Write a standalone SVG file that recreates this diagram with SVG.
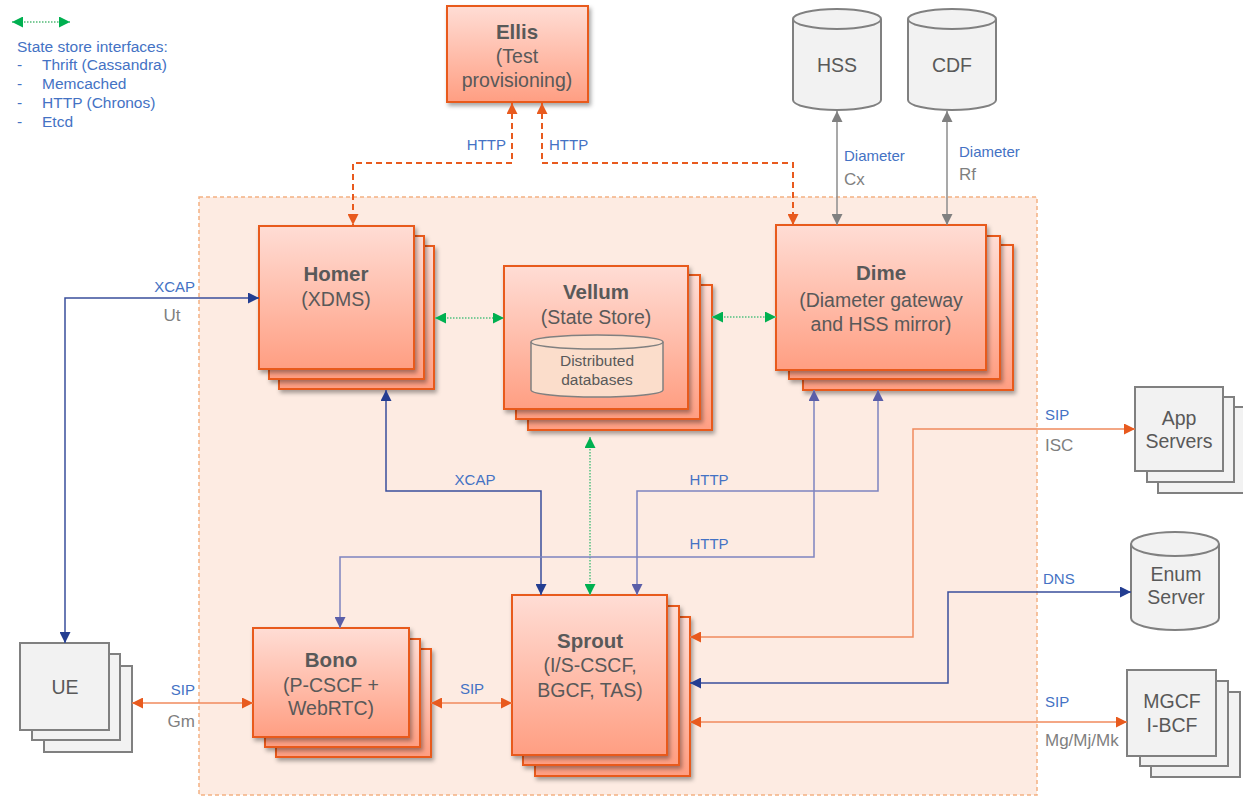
<svg xmlns="http://www.w3.org/2000/svg" width="1243" height="796" viewBox="0 0 1243 796">
<style>
text{font-family:"Liberation Sans",Arial,sans-serif}
.nd{fill:url(#og);stroke:#E85A1E;stroke-width:2;filter:url(#sh)}
.gn{fill:#F2F2F2;stroke:#808080;stroke-width:2}
.t{font-size:20.5px;font-weight:bold;fill:#595959;text-anchor:middle}
.s{font-size:19.5px;fill:#595959;text-anchor:middle}
.g{font-size:19.5px;fill:#595959;text-anchor:middle}
.lb{font-size:15px;fill:#4472C4}
.lg{font-size:17px;fill:#7F7F7F}
.leg{font-size:15.5px;fill:#4472C4}
.sip{fill:none;stroke:#F08A5D;stroke-width:1.5;marker-start:url(#ao);marker-end:url(#ao)}
.xb{fill:none;stroke:#3A4F9C;stroke-width:1.5;marker-start:url(#ab);marker-end:url(#ab)}
.hb{fill:none;stroke:#7E84C0;stroke-width:1.5;marker-start:url(#ap);marker-end:url(#ap)}
.gr{fill:none;stroke:#7CCB98;stroke-width:2;stroke-dasharray:1.5,1.5;marker-start:url(#ag);marker-end:url(#ag)}
.el{fill:none;stroke:#E85A1E;stroke-width:2;stroke-dasharray:6,4;marker-start:url(#ao);marker-end:url(#ao)}
.dg{fill:none;stroke:#8C8C8C;stroke-width:1.5;marker-start:url(#ay);marker-end:url(#ay)}
</style>
<defs>
<linearGradient id="og" x1="0" y1="0" x2="0" y2="1">
<stop offset="0" stop-color="#FFDDD5"/>
<stop offset="1" stop-color="#FF9E82"/>
</linearGradient>
<filter id="sh" x="-10%" y="-10%" width="130%" height="130%">
<feDropShadow dx="2" dy="3" stdDeviation="2" flood-color="#000" flood-opacity="0.35"/>
</filter>
<marker id="ao" viewBox="0 0 10 10" refX="10" refY="5" markerWidth="11" markerHeight="11" markerUnits="userSpaceOnUse" orient="auto-start-reverse"><path d="M0,0 L10,5 L0,10 z" fill="#E85A1E"/></marker>
<marker id="ab" viewBox="0 0 10 10" refX="10" refY="5" markerWidth="11" markerHeight="11" markerUnits="userSpaceOnUse" orient="auto-start-reverse"><path d="M0,0 L10,5 L0,10 z" fill="#233D91"/></marker>
<marker id="ap" viewBox="0 0 10 10" refX="10" refY="5" markerWidth="11" markerHeight="11" markerUnits="userSpaceOnUse" orient="auto-start-reverse"><path d="M0,0 L10,5 L0,10 z" fill="#5A5EA8"/></marker>
<marker id="ag" viewBox="0 0 10 10" refX="10" refY="5" markerWidth="11" markerHeight="11" markerUnits="userSpaceOnUse" orient="auto-start-reverse"><path d="M0,0 L10,5 L0,10 z" fill="#00B050"/></marker>
<marker id="ay" viewBox="0 0 10 10" refX="10" refY="5" markerWidth="11" markerHeight="11" markerUnits="userSpaceOnUse" orient="auto-start-reverse"><path d="M0,0 L10,5 L0,10 z" fill="#808080"/></marker>
</defs>
<rect width="1243" height="796" fill="#FFFFFF"/>

<g id="legend">
<path class="gr" d="M12,22 H70"/>
<text class="leg" x="17" y="52">State store interfaces:</text>
<text class="leg" x="17" y="70">-</text><text class="leg" x="42" y="70">Thrift (Cassandra)</text>
<text class="leg" x="17" y="89">-</text><text class="leg" x="42" y="89">Memcached</text>
<text class="leg" x="17" y="108">-</text><text class="leg" x="42" y="108">HTTP (Chronos)</text>
<text class="leg" x="17" y="127">-</text><text class="leg" x="42" y="127">Etcd</text>
</g>

<g id="container">
<rect x="199" y="197" width="838" height="598" fill="#FDEBE2" stroke="#F4B183" stroke-width="1.5" stroke-dasharray="4,3"/>
</g>

<g id="ellis">
<rect class="nd" x="447" y="6" width="141" height="96"/>
<text class="t" x="517" y="39">Ellis</text>
<text class="s" x="517" y="63">(Test</text>
<text class="s" x="517" y="87">provisioning)</text>
</g>

<g id="hss">
<path class="gn" d="M793,19 A44,10 0 0 1 881,19 L881,100 A44,10 0 0 1 793,100 Z"/>
<path d="M793,19 A44,10 0 0 0 881,19" fill="none" stroke="#808080" stroke-width="2"/>
<text class="g" x="837" y="72">HSS</text>
</g>
<g id="cdf">
<path class="gn" d="M908,19 A44,10 0 0 1 996,19 L996,100 A44,10 0 0 1 908,100 Z"/>
<path d="M908,19 A44,10 0 0 0 996,19" fill="none" stroke="#808080" stroke-width="2"/>
<text class="g" x="952" y="72">CDF</text>
</g>

<g id="homer">
<rect class="nd" x="279" y="246" width="155" height="143"/>
<rect class="nd" x="269" y="236" width="155" height="143"/>
<rect class="nd" x="259" y="226" width="155" height="143"/>
<text class="t" x="336" y="281">Homer</text>
<text class="s" x="336" y="306">(XDMS)</text>
</g>

<g id="vellum">
<rect class="nd" x="528" y="285" width="184" height="145"/>
<rect class="nd" x="516" y="275" width="184" height="144"/>
<rect class="nd" x="504" y="266" width="184" height="143"/>
<text class="t" x="596" y="299">Vellum</text>
<text class="s" x="596" y="324">(State Store)</text>
<path d="M531,342 A66,7 0 0 1 663,342 L663,390 A66,7 0 0 1 531,390 Z" fill="#FBDDCB" stroke="#808080" stroke-width="1.5"/>
<path d="M531,342 A66,7 0 0 0 663,342" fill="none" stroke="#808080" stroke-width="1.5"/>
<text x="597" y="366" font-size="15.5" fill="#595959" text-anchor="middle">Distributed</text>
<text x="597" y="385" font-size="15.5" fill="#595959" text-anchor="middle">databases</text>
</g>

<g id="dime">
<rect class="nd" x="803" y="245" width="210" height="145"/>
<rect class="nd" x="789" y="236" width="211" height="143"/>
<rect class="nd" x="776" y="225" width="210" height="145"/>
<text class="t" x="881" y="280">Dime</text>
<text class="s" x="881" y="307">(Diameter gateway</text>
<text class="s" x="881" y="331">and HSS mirror)</text>
</g>

<g id="ue">
<rect class="gn" x="44" y="666" width="88" height="86"/>
<rect class="gn" x="32" y="654" width="88" height="86"/>
<rect class="gn" x="20" y="643" width="89" height="87"/>
<text class="g" x="65" y="694">UE</text>
</g>

<g id="bono">
<rect class="nd" x="276" y="649" width="155" height="108"/>
<rect class="nd" x="265" y="639" width="155" height="108"/>
<rect class="nd" x="253" y="628" width="156" height="109"/>
<text class="t" x="331" y="667">Bono</text>
<text class="s" x="331" y="692">(P-CSCF +</text>
<text class="s" x="331" y="715">WebRTC)</text>
</g>

<g id="sprout">
<rect class="nd" x="535" y="617" width="155" height="159"/>
<rect class="nd" x="523" y="606" width="156" height="159"/>
<rect class="nd" x="512" y="595" width="155" height="160"/>
<text class="t" x="590" y="648">Sprout</text>
<text class="s" x="590" y="672">(I/S-CSCF,</text>
<text class="s" x="590" y="697">BGCF, TAS)</text>
</g>

<g id="appservers">
<rect class="gn" x="1158" y="407" width="90" height="86"/>
<rect class="gn" x="1147" y="397" width="87" height="85"/>
<rect class="gn" x="1135" y="387" width="88" height="84"/>
<text class="g" x="1179" y="425">App</text>
<text class="g" x="1179" y="448">Servers</text>
</g>

<g id="enum">
<path class="gn" d="M1131,544 A44,12 0 0 1 1219,544 L1219,618 A44,12 0 0 1 1131,618 Z"/>
<path d="M1131,544 A44,12 0 0 0 1219,544" fill="none" stroke="#808080" stroke-width="2"/>
<text class="g" x="1176" y="581">Enum</text>
<text class="g" x="1176" y="604">Server</text>
</g>

<g id="mgcf">
<rect class="gn" x="1151" y="692" width="89" height="85"/>
<rect class="gn" x="1140" y="681" width="88" height="85"/>
<rect class="gn" x="1127" y="670" width="89" height="86"/>
<text class="g" x="1172" y="708">MGCF</text>
<text class="g" x="1172" y="732">I-BCF</text>
</g>

<g id="connectors">
<path class="el" d="M512,103 V163 H353 V225"/>
<path class="el" d="M542,103 V163 H793 V225"/>
<path class="dg" d="M837,111 V225"/>
<path class="dg" d="M947,111 V225"/>
<path class="xb" d="M65,643 V298 H259"/>
<path class="gr" d="M435,318 H504"/>
<path class="gr" d="M712,317 H776"/>
<path class="xb" d="M386,390 V491 H541 V595"/>
<path class="gr" d="M590,437 V595"/>
<path class="hb" d="M878,390 V491 H637 V595"/>
<path class="hb" d="M814,390 V557 H340 V628"/>
<path class="sip" d="M132,703 H253"/>
<path class="sip" d="M431,703 H512"/>
<path class="sip" d="M690,637 H913 V429 H1135"/>
<path class="xb" d="M690,683 H948 V592 H1131"/>
<path class="sip" d="M690,722 H1127"/>
</g>

<g id="labels">
<text class="lb" x="506" y="150" text-anchor="end">HTTP</text>
<text class="lb" x="549" y="150">HTTP</text>
<text class="lb" x="844" y="161">Diameter</text>
<text class="lg" x="844" y="185">Cx</text>
<text class="lb" x="959" y="157">Diameter</text>
<text class="lg" x="959" y="180">Rf</text>
<text class="lb" x="195" y="292" text-anchor="end">XCAP</text>
<text class="lg" x="172" y="321" text-anchor="middle">Ut</text>
<text class="lb" x="475" y="485" text-anchor="middle">XCAP</text>
<text class="lb" x="709" y="485" text-anchor="middle">HTTP</text>
<text class="lb" x="709" y="549" text-anchor="middle">HTTP</text>
<text class="lb" x="1045" y="420">SIP</text>
<text class="lg" x="1045" y="451">ISC</text>
<text class="lb" x="1043" y="584">DNS</text>
<text class="lb" x="1045" y="707">SIP</text>
<text class="lg" x="1045" y="746">Mg/Mj/Mk</text>
<text class="lb" x="195" y="695" text-anchor="end">SIP</text>
<text class="lg" x="195" y="727" text-anchor="end">Gm</text>
<text class="lb" x="472" y="694" text-anchor="middle">SIP</text>
</g>
</svg>
